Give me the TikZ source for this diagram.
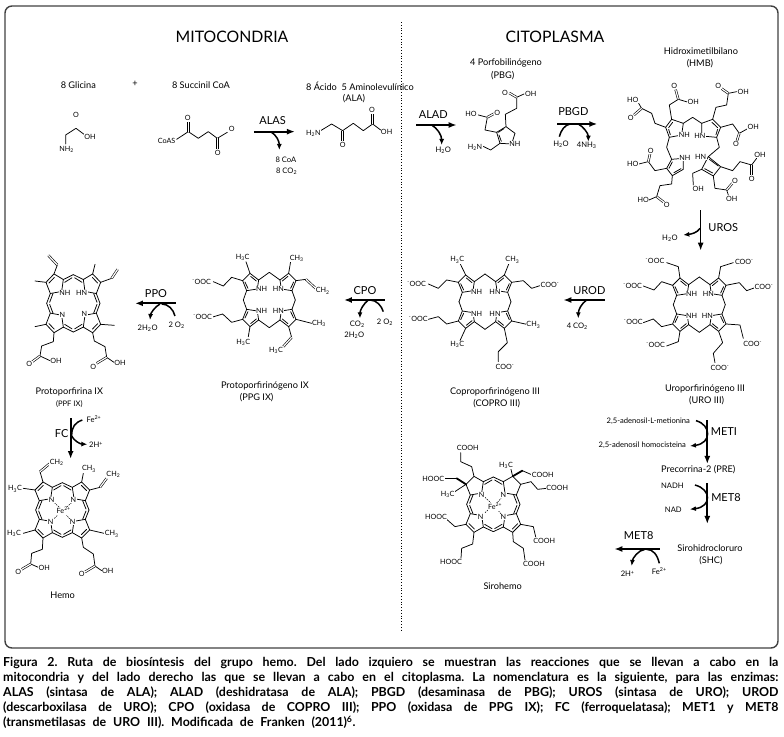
\documentclass[tikz,border=0pt]{standalone}
\usepackage{fontspec}
\setmainfont{Lato}
\usetikzlibrary{arrows.meta}
\tikzset{
  zone/.style 2 args={shift={(#1,#2)},x=0.3333pt,y=-0.3333pt},
  bond/.style={line width=0.75pt,line join=round,line cap=round},
  dbl/.style={line width=0.6pt,double,double distance=1.2pt},
  wedgebond/.style={line width=1.8pt,line cap=round},
  fedash/.style={line width=0.5pt,dash pattern=on 1.5pt off 1pt},
  atom/.style={fill=white,inner sep=0.5pt,font=\fontsize{7.2}{8}\selectfont},
  lab/.style={inner sep=0pt,font=\fontsize{9.2}{11}\selectfont},
  tiny/.style={inner sep=0pt,font=\fontsize{7.6}{9}\selectfont},
  enz/.style={inner sep=0pt,font=\fontsize{11}{13}\selectfont},
  ttl/.style={inner sep=0pt,font=\fontsize{15.8}{20}\selectfont},
  rxnarr/.style={-{Latex[length=8pt,width=6pt]},line width=1.7pt},
  sidearr/.style={-{Latex[length=6pt,width=5pt]},line width=1.5pt},
  sideline/.style={line width=1.5pt}
}
% porphyrinogen core: rings a-b-c-d-n, saved as (a..), (b..), (c..), (d..)
\newcommand{\gencore}[1]{%
  \foreach \sx/\sy/\nm in {1/1/ul,-1/1/ur,1/-1/ll,-1/-1/lr}{
    \begin{scope}[shift={#1},xscale=\sx,yscale=\sy]
      \coordinate (a\nm) at (-32,-60);
      \coordinate (b\nm) at (-58,-80);
      \coordinate (c\nm) at (-80,-58);
      \coordinate (d\nm) at (-68,-28);
      \draw[bond] (0,-83) -- (a\nm) -- (b\nm) -- (c\nm) -- (d\nm) -- (-78,0);
      \draw[bond] (d\nm) -- (-36,-33) -- (a\nm);
      \draw[bond] (-39,-57) -- (-56,-71) (-73,-54) -- (-64,-35);
    \end{scope}}}
% porphyrin core, #2 y stretch, #3 sides that keep the ring double bond
\newcommand{\hemcore}[3]{%
  \foreach \sx/\sy/\nm in {1/1/ul,-1/1/ur,1/-1/ll,-1/-1/lr}{
    \begin{scope}[shift={#1},xscale=\sx,yscale=\sy*#2]
      \coordinate (a\nm) at (-30,-68);
      \coordinate (b\nm) at (-58,-84);
      \coordinate (c\nm) at (-82,-60);
      \coordinate (d\nm) at (-69,-28);
      \draw[bond] (0,-82) -- (a\nm) -- (b\nm) -- (c\nm) -- (d\nm) -- (-80,0);
      \draw[bond] (d\nm) -- (-35,-34) -- (a\nm);
      \draw[bond] (-26,-60) -- (-4,-73) (-61,-28) -- (-71,-3);
    \end{scope}}
  \foreach \sy in {#3}{\foreach \sx in {1,-1}{
    \begin{scope}[shift={#1},xscale=\sx,yscale=\sy*#2]
      \draw[bond] (-57,-74) -- (-73,-58);
    \end{scope}}}}

\begin{document}
\begin{tikzpicture}[x=1pt,y=-1pt]
\useasboundingbox (0,0) rectangle (784,736);
\draw[draw=black!75,line width=1.4pt,rounded corners=7pt] (5,6) rectangle (778,648);
\coordinate (divT) at (401,22);
\coordinate (divB) at (401,630);
\draw[dotted,line width=0.8pt] (divT) -- (divB);

\node[ttl] (mito) at (232,37) {MITOCONDRIA};
\node[ttl] (cito) at (555,37) {CITOPLASMA};

\begin{scope}[zone={0}{0}]
\node[lab] (glyT) at (235,254) {8 Glicina};
\node[lab] (plus) at (405,250) {+};
\node[lab] (sucT) at (603,254) {8 Succinil CoA};
\node[lab,anchor=west] (alaT) at (918,258) {8 Ácido\ \ 5 Aminolevulínico};
\node[lab] (alaS) at (1062,295) {(ALA)};
\draw[bond] (197,432) -- (197,405) -- (228,385) -- (252,403);
\draw[dbl] (228,385) -- (228,356);
\node[atom] (glyO) at (228,345) {O};
\node[atom] (glyOH) at (270,412) {OH};
\node[atom] (glyN) at (200,448) {NH\textsubscript{2}};
\draw[bond] (530,418) -- (565,395) -- (595,415) -- (625,395) -- (652,415) -- (682,397);
\draw[dbl] (565,395) -- (565,366);
\draw[dbl] (652,415) -- (652,446);
\node[atom] (sucS) at (500,422) {CoAS};
\node[atom] (sucOa) at (563,355) {O};
\node[atom] (sucOb) at (653,460) {O};
\node[atom] (sucOc) at (695,387) {O};
\draw[bond] (962,392) -- (995,372) -- (1028,392) -- (1060,370) -- (1090,392) -- (1118,372) -- (1142,390);
\draw[dbl] (1118,372) -- (1118,343);
\draw[dbl] (1028,392) -- (1028,424);
\node[atom] (alaN) at (940,400) {H\textsubscript{2}N};
\node[atom] (alaOa) at (1116,331) {O};
\node[atom] (alaOb) at (1028,435) {O};
\node[atom] (alaOH) at (1160,395) {OH};
\node[enz] (alas) at (818,362) {ALAS};
\coordinate (alasA) at (762,395); \coordinate (alasB) at (885,395); \coordinate (alasC) at (812,395); \coordinate (alasD) at (838,450);
\draw[rxnarr] (alasA) -- (alasB);
\draw[sidearr] (alasC) .. controls (830,405) and (838,425) .. (alasD);
\node[tiny] (coaT) at (858,478) {8 CoA};
\node[tiny] (co2T) at (860,515) {8 CO\textsubscript{2}};
\end{scope}

\begin{scope}[zone={400}{20}]
\node[lab] (pbgT) at (318,130) {4 Porfobilinógeno};
\node[lab] (pbgS) at (308,166) {(PBG)};
\node[lab] (hmbT) at (903,92) {Hidroximetilbilano};
\node[lab] (hmbS) at (900,130) {(HMB)};
% PBG
\draw[bond] (318,320) -- (290,337) -- (300,370) -- (335,372) -- (345,340) -- cycle;
\draw[bond] (312,326) -- (295,337) (297,345) -- (304,364);
\draw[bond] (318,320) -- (316,283) -- (350,265) -- (350,232) -- (372,222);
\draw[dbl] (350,232) -- (328,219);
\draw[bond] (290,337) -- (255,330) -- (262,292) -- (235,285);
\draw[dbl] (262,292) -- (282,281);
\draw[bond] (300,370) -- (272,390) -- (247,378);
\node[atom] (pbgOa) at (315,218) {O};
\node[atom] (pbgOHa) at (392,222) {OH};
\node[atom] (pbgOb) at (292,278) {O};
\node[atom] (pbgHO) at (213,282) {HO};
\node[atom] (pbgN) at (225,382) {H\textsubscript{2}N};
\node[atom] (pbgNH) at (345,372) {NH};
\node[enz] (alad) at (100,285) {ALAD};
\coordinate (aladA) at (48,315); \coordinate (aladB) at (170,315); \coordinate (aladC) at (95,315); \coordinate (aladD) at (125,375);
\draw[rxnarr] (aladA) -- (aladB);
\draw[sidearr] (aladC) .. controls (112,325) and (125,345) .. (aladD);
\node[tiny] (aladW) at (130,390) {H\textsubscript{2}O};
\node[enz] (pbgd) at (520,275) {PBGD};
\coordinate (pbgdA) at (472,312); \coordinate (pbgdB) at (592,312); \coordinate (pbgdC) at (478,350); \coordinate (pbgdD) at (510,312); \coordinate (pbgdE) at (535,312); \coordinate (pbgdF) at (565,365);
\draw[rxnarr] (pbgdA) -- (pbgdB);
\draw[sideline] (pbgdC) .. controls (483,330) and (495,315) .. (pbgdD);
\draw[sidearr] (pbgdE) .. controls (550,320) and (565,340) .. (pbgdF);
\node[tiny] (pbgdW) at (483,374) {H\textsubscript{2}O};
\node[tiny] (pbgdN) at (560,375) {4NH\textsubscript{3}};
% HMB
\draw[bond] (815,298) -- (797,322) -- (808,352) -- (845,345) -- (850,310) -- cycle;
\draw[bond] (818,307) -- (806,323) (811,344) -- (806,328);
\draw[bond] (938,298) -- (962,322) -- (950,352) -- (905,348) -- (905,310) -- cycle;
\draw[bond] (936,307) -- (953,323) (948,344) -- (953,328);
\draw[bond] (850,310) -- (878,292) -- (905,310);
\draw[bond] (808,352) -- (800,382) -- (815,418);
\draw[bond] (950,352) -- (958,382) -- (925,410);
\draw[bond] (815,418) -- (800,445) -- (817,467) -- (850,448) -- (850,415) -- cycle;
\draw[bond] (817,426) -- (807,445) (822,458) -- (843,446);
\draw[bond] (925,410) -- (905,448) -- (940,468) -- (962,440) -- cycle;
\draw[bond] (914,446) -- (938,459) (955,438) -- (928,418);
\draw[bond] (815,298) -- (808,255) -- (835,238) -- (862,246);
\draw[dbl] (835,238) -- (827,209);
\draw[bond] (797,322) -- (765,310) -- (755,280) -- (725,265) -- (716,250);
\draw[dbl] (725,265) -- (702,285);
\draw[bond] (938,298) -- (948,262) -- (980,255) -- (985,220) -- (1010,215);
\draw[dbl] (985,220) -- (965,206);
\draw[bond] (962,322) -- (998,312) -- (1018,340) -- (1043,326);
\draw[dbl] (1018,340) -- (1011,362);
\draw[bond] (800,445) -- (765,452) -- (745,425) -- (717,432);
\draw[dbl] (745,425) -- (750,402);
\draw[bond] (817,467) -- (815,492) -- (780,497) -- (770,530) -- (747,540);
\draw[dbl] (770,530) -- (792,547);
\draw[bond] (962,440) -- (998,452) -- (1020,425) -- (1055,435) -- (1070,415);
\draw[dbl] (1055,435) -- (1055,465);
\draw[bond] (940,468) -- (945,505) -- (980,510) -- (985,525);
\draw[dbl] (980,510) -- (997,490);
\draw[bond] (905,448) -- (878,460) -- (880,495);
\node[atom] (hmbOa) at (823,198) {O};
\node[atom] (hmbOHa) at (880,245) {OH};
\node[atom] (hmbHOa) at (698,240) {HO};
\node[atom] (hmbOb) at (692,293) {O};
\node[atom] (hmbOc) at (955,197) {O};
\node[atom] (hmbOHb) at (1030,215) {OH};
\node[atom] (hmbOHc) at (1060,322) {OH};
\node[atom] (hmbOd) at (1008,372) {O};
\node[atom] (hmbHOb) at (698,433) {HO};
\node[atom] (hmbOe) at (752,392) {O};
\node[atom] (hmbHOc) at (730,541) {HO};
\node[atom] (hmbOf) at (800,555) {O};
\node[atom] (hmbOHd) at (1080,405) {OH};
\node[atom] (hmbOg) at (1055,478) {O};
\node[atom] (hmbOh) at (1005,482) {O};
\node[atom] (hmbOHe) at (995,537) {OH};
\node[atom] (hmbOHf) at (895,507) {OH};
\node[atom] (hmbNa) at (853,345) {NH};
\node[atom] (hmbNb) at (900,348) {HN};
\node[atom] (hmbNc) at (855,413) {NH};
\node[atom] (hmbNd) at (902,412) {HN};
\end{scope}

\begin{scope}[zone={400}{220}]
\node[enz] (uros) at (970,23) {UROS};
\coordinate (urosA) at (902,-30); \coordinate (urosB) at (902,92); \coordinate (urosC) at (900,25); \coordinate (urosD) at (850,45);
\draw[rxnarr] (urosA) -- (urosB);
\draw[sidearr] (urosC) .. controls (892,38) and (875,42) .. (urosD);
\node[tiny] (urosW) at (810,55) {H\textsubscript{2}O};
% URO III
\gencore{(898,254)}
\draw[bond] (bul) -- (835,140) -- (800,128);
\draw[bond] (cul) -- (785,185) -- (762,210) -- (730,198);
\draw[bond] (bur) -- (962,140) -- (1000,128);
\draw[bond] (cur) -- (1018,188) -- (1040,212) -- (1065,203);
\draw[bond] (cll) -- (785,320) -- (760,297) -- (730,308);
\draw[bond] (bll) -- (835,365) -- (800,378);
\draw[bond] (clr) -- (1020,315) -- (1030,355);
\draw[bond] (blr) -- (968,368) -- (940,400) -- (945,428);
\node[atom] (uroA) at (765,123) {\textsuperscript{-}OOC};
\node[atom] (uroB) at (698,198) {\textsuperscript{-}OOC};
\node[atom] (uroC) at (1033,125) {COO\textsuperscript{-}};
\node[atom] (uroD) at (1092,202) {COO\textsuperscript{-}};
\node[atom] (uroE) at (700,306) {\textsuperscript{-}OOC};
\node[atom] (uroF) at (767,375) {\textsuperscript{-}OOC};
\node[atom] (uroG) at (1058,372) {COO\textsuperscript{-}};
\node[atom] (uroH) at (960,445) {COO\textsuperscript{-}};
\node[atom] (uroNa) at (875,222) {NH};
\node[atom] (uroNb) at (925,222) {HN};
\node[atom] (uroNc) at (875,287) {NH};
\node[atom] (uroNd) at (922,287) {HN};
\node[lab] (uroT) at (915,507) {Uroporfirinógeno III};
\node[lab] (uroS) at (920,543) {(URO III)};
\node[enz] (urod) at (568,213) {UROD};
\coordinate (urodA) at (615,240); \coordinate (urodB) at (490,240); \coordinate (urodC) at (560,240); \coordinate (urodD) at (535,295);
\draw[rxnarr] (urodA) -- (urodB);
\draw[sidearr] (urodC) .. controls (545,250) and (535,270) .. (urodD);
\node[tiny] (urodT) at (532,318) {4 CO\textsubscript{2}};
% COPRO III
\gencore{(255,245)}
\draw[bond] (bul) -- (180,130);
\draw[bond] (cul) -- (140,180) -- (115,205) -- (85,192);
\draw[bond] (bur) -- (327,130);
\draw[bond] (cur) -- (370,182) -- (395,205) -- (420,197);
\draw[bond] (cll) -- (140,312) -- (115,290) -- (85,298);
\draw[bond] (bll) -- (180,362);
\draw[bond] (clr) -- (380,313);
\draw[bond] (blr) -- (322,368) -- (295,395) -- (295,425);
\node[atom] (copA) at (172,120) {H\textsubscript{3}C};
\node[atom] (copB) at (50,192) {\textsuperscript{-}OOC};
\node[atom] (copC) at (337,120) {CH\textsubscript{3}};
\node[atom] (copD) at (450,195) {COO\textsuperscript{-}};
\node[atom] (copE) at (55,298) {\textsuperscript{-}OOC};
\node[atom] (copF) at (172,373) {H\textsubscript{3}C};
\node[atom] (copG) at (400,315) {CH\textsubscript{3}};
\node[atom] (copH) at (315,440) {COO\textsuperscript{-}};
\node[atom] (copNa) at (230,215) {NH};
\node[atom] (copNb) at (285,215) {HN};
\node[atom] (copNc) at (230,282) {NH};
\node[atom] (copNd) at (285,282) {HN};
\node[lab] (copT) at (285,515) {Coproporfirinógeno III};
\node[lab] (copS) at (290,550) {(COPRO III)};
\end{scope}

\begin{scope}[zone={0}{220}]
% PPG IX
\gencore{(808,240)}
\draw[bond] (bul) -- (738,125);
\draw[bond] (cul) -- (695,172) -- (670,198) -- (640,185);
\draw[bond] (bur) -- (872,125);
\draw[bond] (cur) -- (918,178);
\draw[dbl] (918,178) -- (948,206);
\draw[bond] (cll) -- (695,307) -- (668,282) -- (635,292);
\draw[bond] (bll) -- (745,350);
\draw[bond] (clr) -- (935,310);
\draw[bond] (blr) -- (875,352);
\draw[dbl] (875,352) -- (850,380);
\node[atom] (ppgA) at (728,113) {H\textsubscript{3}C};
\node[atom] (ppgB) at (605,185) {\textsuperscript{-}OOC};
\node[atom] (ppgC) at (890,115) {CH\textsubscript{3}};
\node[atom] (ppgD) at (968,213) {CH\textsubscript{2}};
\node[atom] (ppgE) at (608,292) {\textsuperscript{-}OOC};
\node[atom] (ppgF) at (730,368) {H\textsubscript{3}C};
\node[atom] (ppgG) at (957,310) {CH\textsubscript{3}};
\node[atom] (ppgH) at (828,392) {H\textsubscript{3}C};
\node[atom] (ppgNa) at (785,207) {NH};
\node[atom] (ppgNb) at (835,207) {HN};
\node[atom] (ppgNc) at (785,273) {NH};
\node[atom] (ppgNd) at (835,273) {HN};
\node[lab] (ppgT) at (795,497) {Protoporfirinógeno IX};
\node[lab] (ppgS) at (770,533) {(PPG IX)};
\node[enz] (cpo) at (1095,212) {CPO};
\coordinate (cpoA) at (1155,240); \coordinate (cpoB) at (1032,240); \coordinate (cpoC) at (1150,275); \coordinate (cpoD) at (1105,240); \coordinate (cpoE) at (1080,295);
\draw[rxnarr] (cpoA) -- (cpoB);
\draw[sideline] (cpoC) .. controls (1145,258) and (1130,240) .. (1110,240);
\draw[sidearr] (cpoD) .. controls (1092,250) and (1080,270) .. (cpoE);
\node[tiny] (cpoCO) at (1072,313) {CO\textsubscript{2}};
\node[tiny] (cpoO) at (1155,308) {2 O\textsubscript{2}};
\node[tiny] (cpoW) at (1063,347) {2H\textsubscript{2}O};
\node[enz] (ppo) at (468,222) {PPO};
\coordinate (ppoA) at (527,250); \coordinate (ppoB) at (405,250); \coordinate (ppoC) at (525,288); \coordinate (ppoD) at (480,252); \coordinate (ppoE) at (450,300);
\draw[rxnarr] (ppoA) -- (ppoB);
\draw[sideline] (ppoC) .. controls (520,268) and (505,252) .. (485,252);
\draw[sidearr] (ppoD) .. controls (465,260) and (452,280) .. (ppoE);
\node[tiny] (ppoW) at (443,325) {2H\textsubscript{2}O};
\node[tiny] (ppoO) at (530,316) {2 O\textsubscript{2}};
% PPF IX
\hemcore{(220,250)}{1.05}{1,-1}
\draw[bond] (bul) -- (172,135);
\draw[dbl] (172,135) -- (145,106);
\draw[bond] (cul) -- (105,183);
\draw[bond] (bur) -- (285,133);
\draw[bond] (cur) -- (335,175);
\draw[dbl] (335,175) -- (353,148);
\draw[bond] (cll) -- (105,320);
\draw[bond] (bll) -- (160,365) -- (125,378) -- (120,408) -- (150,422);
\draw[dbl] (120,408) -- (97,425);
\draw[bond] (clr) -- (343,316);
\draw[bond] (blr) -- (283,363) -- (315,380) -- (320,412) -- (342,427);
\draw[dbl] (320,412) -- (290,430);
\node[atom] (ppfOa) at (88,432) {O};
\node[atom] (ppfOHa) at (168,422) {OH};
\node[atom] (ppfOb) at (280,440) {O};
\node[atom] (ppfOHb) at (360,430) {OH};
\node[atom] (ppfNa) at (195,218) {NH};
\node[atom] (ppfNb) at (245,218) {HN};
\node[atom] (ppfNc) at (187,285) {N};
\node[atom] (ppfNd) at (253,283) {N};
\node[lab] (ppfT) at (208,517) {Protoporfirina IX};
\node[tiny] (ppfS) at (208,552) {(PPF IX)};
\end{scope}

\begin{scope}[zone={0}{410}]
\node[enz] (fc) at (185,72) {FC};
\coordinate (fcA) at (212,25); \coordinate (fcB) at (212,147); \coordinate (fcC) at (247,30); \coordinate (fcD) at (215,78); \coordinate (fcE) at (262,103);
\draw[rxnarr] (fcA) -- (fcB);
\draw[sideline] (fcC) .. controls (225,38) and (215,50) .. (fcD);
\draw[sidearr] (fcD) .. controls (222,92) and (240,102) .. (fcE);
\node[tiny] (fcFe) at (282,28) {Fe\textsuperscript{2+}};
\node[tiny] (fcH) at (288,105) {2H\textsuperscript{+}};
% Hemo
\hemcore{(187,300)}{1}{1,-1}
\draw[bond] (bul) -- (120,185);
\draw[dbl] (120,185) -- (150,160);
\draw[bond] (cul) -- (70,235);
\draw[bond] (bur) -- (250,190);
\draw[bond] (cur) -- (300,232);
\draw[dbl] (300,232) -- (320,205);
\draw[bond] (cll) -- (70,370);
\draw[bond] (bll) -- (127,418) -- (95,430) -- (92,462) -- (115,472);
\draw[dbl] (92,462) -- (65,478);
\draw[bond] (clr) -- (312,370);
\draw[bond] (blr) -- (250,412) -- (280,432) -- (285,468) -- (305,482);
\draw[dbl] (285,468) -- (255,486);
\draw[fedash] (163,278) -- (178,292) (215,278) -- (198,293) (163,325) -- (178,310) (210,328) -- (197,312);
\node[atom] (hemA) at (170,158) {CH\textsubscript{2}};
\node[atom] (hemB) at (45,237) {H\textsubscript{3}C};
\node[atom] (hemC) at (267,177) {CH\textsubscript{3}};
\node[atom] (hemD) at (340,193) {CH\textsubscript{2}};
\node[atom] (hemE) at (42,370) {H\textsubscript{3}C};
\node[atom] (hemF) at (335,372) {CH\textsubscript{3}};
\node[atom] (hemOa) at (55,485) {O};
\node[atom] (hemOHa) at (133,473) {OH};
\node[atom] (hemOb) at (245,492) {O};
\node[atom] (hemOHb) at (323,482) {OH};
\node[atom] (hemNa) at (155,270) {N};
\node[atom] (hemNb) at (220,270) {N};
\node[atom] (hemNc) at (152,337) {N};
\node[atom] (hemNd) at (218,337) {N};
\node[atom] (hemFe) at (191,302) {Fe\textsuperscript{2+}};
\node[lab] (hemT) at (188,555) {Hemo};
\end{scope}

\begin{scope}[zone={400}{400}]
% Sirohemo
\hemcore{(280,313)}{1}{-1}
\draw[bond] (bul) -- (215,200) -- (182,185) -- (182,158);
\draw[wedgebond] (cul) -- (170,235);
\draw[bond] (170,235) -- (133,235);
\draw[bond] (cul) -- (160,278);
\draw[bond] (cur) -- (393,245) -- (413,268) -- (440,265);
\draw[bond] (bur) -- (333,208);
\draw[wedgebond] (bur) -- (367,212);
\draw[bond] (367,212) -- (397,225);
\draw[bond] (cll) -- (165,380) -- (140,358);
\draw[bond] (bll) -- (218,432) -- (185,445) -- (183,475);
\draw[bond] (clr) -- (400,380) -- (407,410);
\draw[bond] (blr) -- (340,425) -- (370,445) -- (375,480);
\draw[fedash] (255,292) -- (272,308) (305,292) -- (292,308) (255,338) -- (270,325) (303,342) -- (292,328);
\node[atom] (sirA) at (203,143) {COOH};
\node[atom] (sirB) at (100,238) {HOOC};
\node[atom] (sirC) at (143,283) {H\textsubscript{3}C};
\node[atom] (sirD) at (318,197) {H\textsubscript{3}C};
\node[atom] (sirE) at (428,225) {COOH};
\node[atom] (sirF) at (472,265) {COOH};
\node[atom] (sirG) at (108,350) {HOOC};
\node[atom] (sirH) at (153,487) {HOOC};
\node[atom] (sirI) at (433,423) {COOH};
\node[atom] (sirJ) at (402,492) {COOH};
\node[atom] (sirNa) at (245,285) {N};
\node[atom] (sirNb) at (310,285) {N};
\node[atom] (sirNc) at (242,350) {N};
\node[atom] (sirNd) at (310,350) {N};
\node[atom] (sirFe) at (285,320) {Fe\textsuperscript{2+}};
\node[lab] (sirT) at (308,558) {Sirohemo};
\node[tiny] (metA) at (745,65) {2,5-adenosil-L-metionina};
\node[tiny] (metB) at (727,135) {2,5-adenosil homocisteina};
\node[enz] (meti) at (972,95) {METI};
\coordinate (metiA) at (922,60); \coordinate (metiB) at (922,192); \coordinate (metiC) at (888,62); \coordinate (metiD) at (870,138);
\draw[rxnarr] (metiA) -- (metiB);
\draw[sidearr] (metiC) .. controls (935,75) and (935,130) .. (metiD);
\node[lab] (preT) at (895,210) {Precorrina-2 (PRE)};
\node[tiny] (nadh) at (817,256) {NADH};
\node[tiny] (nad) at (820,328) {NAD};
\node[enz] (meta) at (978,293) {MET8};
\coordinate (metaA) at (922,250); \coordinate (metaB) at (922,372); \coordinate (metaC) at (885,255); \coordinate (metaD) at (870,328);
\draw[rxnarr] (metaA) -- (metaB);
\draw[sidearr] (metaC) .. controls (935,268) and (935,320) .. (metaD);
\node[lab] (shcT) at (930,445) {Sirohidrocloruro};
\node[lab] (shcS) at (933,482) {(SHC)};
\node[enz] (metb) at (716,407) {MET8};
\coordinate (metbA) at (780,447); \coordinate (metbB) at (643,447); \coordinate (metbC) at (778,490); \coordinate (metbD) at (735,448); \coordinate (metbE) at (695,498);
\draw[rxnarr] (metbA) -- (metbB);
\draw[sideline] (metbC) .. controls (772,465) and (760,448) .. (740,448);
\draw[sidearr] (metbD) .. controls (715,450) and (698,475) .. (metbE);
\node[tiny] (metbH) at (683,522) {2H\textsuperscript{+}};
\node[tiny] (metbFe) at (778,513) {Fe\textsuperscript{2+}};
\end{scope}

\node[anchor=north west,inner sep=0pt,text width=775pt,align=justify,font=\fontsize{12.4}{15}\selectfont\bfseries\frenchspacing] (caption) at (3,657)
  {Figura 2. Ruta de biosíntesis del grupo hemo. Del lado izquiero se muestran las reacciones que se llevan a cabo en la\linebreak
   mitocondria y del lado derecho las que se llevan a cabo en el citoplasma. La nomenclatura es la siguiente, para las enzimas:\linebreak
   ALAS (sintasa de ALA); ALAD (deshidratasa de ALA); PBGD (desaminasa de PBG); UROS (sintasa de URO); UROD\linebreak
   (descarboxilasa de URO); CPO (oxidasa de COPRO III); PPO (oxidasa de PPG IX); FC (ferroquelatasa); MET1 y MET8\linebreak
   \spaceskip=.55em (transmetilasas de URO III). Modificada de Franken (2011)\textsuperscript{6}.};
\end{tikzpicture}
\end{document}
